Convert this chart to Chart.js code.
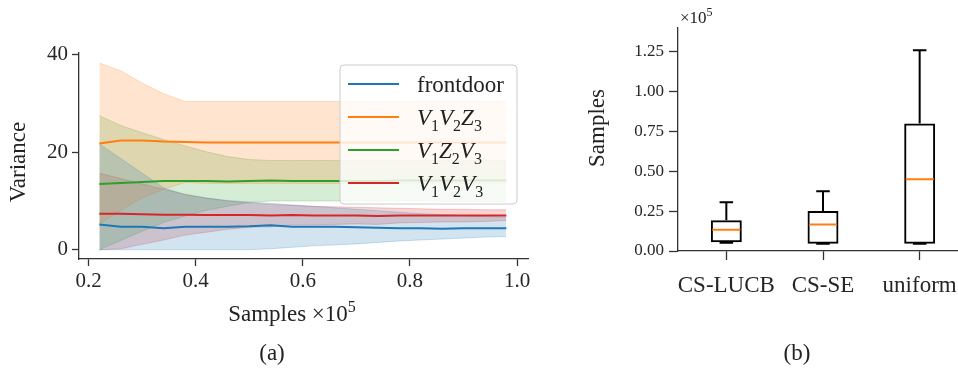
<!DOCTYPE html>
<html>
<head>
<meta charset="utf-8">
<script src="https://cdn.jsdelivr.net/npm/chart.js@4"></script>
<style>
  html, body { margin: 0; padding: 0; background: #fff; overflow: hidden; }
  body { width: 958px; height: 368px; position: relative; }
  #chartA { position: absolute; left: 0; top: 0; }
  #chartB { position: absolute; left: 560px; top: 0; }
</style>
</head>
<body>
<canvas id="chartA" width="560" height="368"></canvas>
<canvas id="chartB" width="440" height="368"></canvas>
<script>
const SERIF = '"Liberation Serif", "DejaVu Serif", serif';
const TEXT = '#262626';
const SPINE = '#333333';

// (a) variance against samples (x10^5)
const sampleSteps = [0.22, 0.26, 0.30, 0.34, 0.38, 0.42, 0.46, 0.50, 0.54, 0.58, 0.62, 0.66, 0.70, 0.74, 0.78, 0.82, 0.86, 0.90, 0.94, 0.98];

const frontdoorMean  = [5.2, 4.7, 4.7, 4.4, 4.7, 4.7, 4.7, 4.8, 5.0, 4.7, 4.7, 4.7, 4.6, 4.5, 4.4, 4.4, 4.3, 4.4, 4.4, 4.4];
const frontdoorUpper = [21.7, 18.7, 15.7, 12.7, 11.3, 10.6, 10.1, 9.8, 9.5, 9.2, 8.9, 8.6, 8.3, 8.0, 7.7, 7.4, 7.2, 7.0, 6.8, 6.7];
const frontdoorLower = [0, 0, 0, 0, 0, 0, 0, 0, 0.2, 0.5, 0.8, 1.0, 1.2, 1.5, 1.8, 2.0, 2.2, 2.4, 2.6, 2.7];

const v1v2z3Mean  = [21.8, 22.4, 22.4, 22.2, 22.1, 22.0, 22.0, 22.0, 22.0, 22.0, 22.0, 22.0, 22.0, 22.0, 22.0, 22.0, 22.0, 22.0, 22.0, 22.0];
const v1v2z3Upper = [38.3, 36.7, 34.2, 32.0, 30.4, 30.4, 30.4, 30.4, 30.4, 30.4, 30.4, 30.4, 30.4, 30.4, 30.4, 30.4, 30.4, 30.4, 30.4, 30.4];
const v1v2z3Lower = [5.3, 8.1, 10.6, 12.4, 13.8, 13.6, 13.6, 13.6, 13.6, 13.6, 13.6, 13.6, 13.6, 13.6, 13.6, 13.6, 13.6, 13.6, 13.6, 13.6];

const v1z2v3Mean  = [13.5, 13.7, 13.9, 14.1, 14.1, 14.1, 14.0, 14.1, 14.2, 14.1, 14.1, 14.1, 14.1, 14.1, 14.2, 14.2, 14.2, 14.2, 14.2, 14.2];
const v1z2v3Upper = [27.5, 25.5, 24.0, 22.6, 21.3, 20.1, 19.1, 18.5, 18.3, 18.3, 18.3, 18.3, 18.3, 18.3, 18.3, 18.3, 18.3, 18.3, 18.3, 18.3];
const v1z2v3Lower = [0, 1.9, 3.8, 5.6, 6.9, 8.1, 8.9, 9.7, 10.0, 10.0, 10.0, 10.0, 10.0, 10.0, 10.0, 10.0, 9.9, 9.9, 9.9, 9.9];

const v1v2v3Mean  = [7.4, 7.4, 7.3, 7.2, 7.2, 7.1, 7.1, 7.1, 7.0, 7.1, 7.0, 7.0, 7.0, 6.9, 7.0, 7.0, 7.0, 7.0, 7.0, 7.0];
const v1v2v3Upper = [15.7, 14.6, 13.5, 12.4, 11.4, 10.6, 10.0, 9.6, 9.3, 9.1, 8.9, 8.8, 8.7, 8.6, 8.5, 8.4, 8.3, 8.3, 8.2, 8.2];
const v1v2v3Lower = [0, 0.2, 1.1, 2.0, 3.0, 3.6, 4.2, 4.6, 4.7, 5.1, 5.1, 5.2, 5.3, 5.2, 5.5, 5.6, 5.7, 5.7, 5.8, 6.0];

const seriesLabels = ['frontdoor', 'V_1V_2Z_3', 'V_1Z_2V_3', 'V_1V_2V_3'];
const seriesColors = ['#1f77b4', '#ff7f0e', '#2ca02c', '#d62728'];
const varianceTicks = [0, 20, 40];
const sampleTicks = [0.2, 0.4, 0.6, 0.8, 1.0];

// (b) samples needed per method (x10^5)
const methods = ['CS-LUCB', 'CS-SE', 'uniform'];
const boxLow    = [0.052, 0.045, 0.045];
const boxQ1     = [0.055, 0.046, 0.046];
const boxMedian = [0.134, 0.166, 0.450];
const boxQ3     = [0.193, 0.251, 0.800];
const boxHigh   = [0.306, 0.375, 1.260];
const sampleCountTicks = [0, 0.25, 0.5, 0.75, 1.0, 1.25];

const rgba = (hex, a) => {
    const n = parseInt(hex.slice(1), 16);
    return `rgba(${(n >> 16) & 255},${(n >> 8) & 255},${n & 255},${a})`;
};

// draws text made of parts, some italic, some sub/superscript
const drawParts = (ctx, parts, x, y, size, align) => {
    const fontFor = p => `${p.italic ? 'italic ' : ''}${(p.sub || p.sup) ? Math.round(size * 0.7) : size}px ${SERIF}`;
    let total = 0;
    parts.forEach(p => { ctx.font = fontFor(p); total += ctx.measureText(p.t).width; });
    let cx = align === 'center' ? x - total / 2 : x;
    ctx.textAlign = 'left';
    ctx.textBaseline = 'alphabetic';
    parts.forEach(p => {
        ctx.font = fontFor(p);
        const dy = p.sub ? size * 0.24 : (p.sup ? -size * 0.4 : 0);
        ctx.fillText(p.t, cx, y + dy);
        cx += ctx.measureText(p.t).width;
    });
};

// 'V_1V_2Z_3' -> italic letters with subscripts
const labelParts = label => {
    if (label.indexOf('_') < 0) return [{ t: label }];
    const parts = [];
    label.replace(/([A-Za-z])_(\d)/g, (m, letter, digit) => {
        parts.push({ t: letter, italic: true });
        parts.push({ t: digit, sub: true });
        return m;
    });
    return parts;
};

const axisStyle = (tickSize, tickLength, padding) => ({
    ticks: { font: { family: SERIF, size: tickSize }, color: TEXT, padding: padding, maxRotation: 0, autoSkip: false },
    grid: { display: true, drawOnChartArea: false, drawTicks: true, tickLength: tickLength, tickWidth: 1.3, tickColor: SPINE, offset: false },
    border: { display: true, color: SPINE, width: 1.3 }
});

// ---------- chart (a) ----------
const seriesMeans = [frontdoorMean, v1v2z3Mean, v1z2v3Mean, v1v2v3Mean];
const seriesUpper = [frontdoorUpper, v1v2z3Upper, v1z2v3Upper, v1v2v3Upper];
const seriesLower = [frontdoorLower, v1v2z3Lower, v1z2v3Lower, v1v2v3Lower];
const toPoints = arr => sampleSteps.map((x, i) => ({ x: x, y: arr[i] }));

// first datasets are drawn last, so the mean lines go first
const lineSets = seriesMeans.map((m, i) => ({
    data: toPoints(m),
    borderColor: seriesColors[i],
    borderWidth: 2,
    pointRadius: 0,
    tension: 0,
    fill: false
}));
const bandSets = [];
seriesUpper.forEach((u, i) => {
    bandSets.push({
        data: toPoints(u),
        borderColor: rgba(seriesColors[i], 0.22),
        borderWidth: 1,
        backgroundColor: rgba(seriesColors[i], 0.2),
        pointRadius: 0,
        tension: 0,
        fill: '+1'
    });
    bandSets.push({
        data: toPoints(seriesLower[i]),
        borderColor: rgba(seriesColors[i], 0.22),
        borderWidth: 1,
        pointRadius: 0,
        tension: 0,
        fill: false
    });
});

const textA = {
    id: 'textA',
    afterDraw(chart) {
        const ctx = chart.ctx;
        const area = chart.chartArea;
        ctx.save();
        ctx.fillStyle = TEXT;

        // legend
        const lx = area.right - 188, ly = area.top + 12, lw = 177, lh = 139;
        ctx.beginPath();
        ctx.roundRect(lx, ly, lw, lh, 4);
        ctx.fillStyle = 'rgba(255,255,255,0.8)';
        ctx.fill();
        ctx.strokeStyle = '#cccccc';
        ctx.lineWidth = 1;
        ctx.stroke();
        seriesLabels.forEach((label, i) => {
            const y = ly + 19 + 33 * i;
            ctx.beginPath();
            ctx.moveTo(lx + 8, y);
            ctx.lineTo(lx + 59, y);
            ctx.strokeStyle = seriesColors[i];
            ctx.lineWidth = 2;
            ctx.stroke();
            ctx.fillStyle = '#222';
            drawParts(ctx, labelParts(label), lx + 77, y + 8, 23, 'left');
        });

        // axis titles and caption
        ctx.fillStyle = '#222';
        drawParts(ctx, [{ t: 'Samples \u00d710' }, { t: '5', sup: true }], 292, 321, 23, 'center');
        drawParts(ctx, [{ t: '(a)' }], 272, 360, 23, 'center');
        ctx.translate(25, 162);
        ctx.rotate(-Math.PI / 2);
        drawParts(ctx, [{ t: 'Variance' }], 0, 0, 23, 'center');
        ctx.restore();
    }
};

const styleXA = axisStyle(21, 7, 3);
const styleYA = axisStyle(21, 7, 4);

new Chart(document.getElementById('chartA'), {
    type: 'line',
    data: { datasets: lineSets.concat(bandSets) },
    options: {
        responsive: false,
        animation: false,
        events: [],
        layout: { padding: { left: 0, top: 53, right: 32, bottom: 0 } },
        plugins: { legend: { display: false }, tooltip: { enabled: false } },
        scales: {
            x: Object.assign({}, styleXA, {
                type: 'linear',
                min: 0.182,
                max: 1.0205,
                afterFit: s => { s.height = 109; },
                afterBuildTicks: s => { s.ticks = sampleTicks.map(v => ({ value: v })); },
                ticks: Object.assign({}, styleXA.ticks, { callback: v => v.toFixed(1) })
            }),
            y: Object.assign({}, styleYA, {
                type: 'linear',
                min: -1.9,
                max: 40.35,
                afterFit: s => { s.width = 79; },
                afterBuildTicks: s => { s.ticks = varianceTicks.map(v => ({ value: v })); },
                ticks: Object.assign({}, styleYA.ticks, { callback: v => String(v) })
            })
        }
    },
    plugins: [textA]
});

// ---------- chart (b) ----------
const BOX_HALF = 0.145;   // median half width, x units
const CAP_HALF = 0.07;    // whisker cap half width

const medianPoints = [];
const whiskerPoints = [];
methods.forEach((m, i) => {
    const pos = i + 1;
    medianPoints.push({ x: pos - BOX_HALF, y: boxMedian[i] }, { x: pos + BOX_HALF, y: boxMedian[i] }, { x: pos, y: null });
    whiskerPoints.push(
        { x: pos, y: boxQ3[i] }, { x: pos, y: boxHigh[i] }, { x: pos, y: null },
        { x: pos - CAP_HALF, y: boxHigh[i] }, { x: pos + CAP_HALF, y: boxHigh[i] }, { x: pos, y: null },
        { x: pos, y: boxQ1[i] }, { x: pos, y: boxLow[i] }, { x: pos, y: null },
        { x: pos - CAP_HALF, y: boxLow[i] }, { x: pos + CAP_HALF, y: boxLow[i] }, { x: pos, y: null }
    );
});

const textB = {
    id: 'textB',
    afterDraw(chart) {
        const ctx = chart.ctx;
        const area = chart.chartArea;
        ctx.save();
        ctx.fillStyle = '#222';
        drawParts(ctx, [{ t: '\u00d710' }, { t: '5', sup: true }], area.left + 2, 23, 17, 'left');
        drawParts(ctx, [{ t: '(b)' }], 237, 360, 23, 'center');
        ctx.translate(44, 128);
        ctx.rotate(-Math.PI / 2);
        drawParts(ctx, [{ t: 'Samples' }], 0, 0, 23, 'center');
        ctx.restore();
    }
};

const styleXB = axisStyle(23, 9, 12);
const styleYB = axisStyle(17, 9, 5);

new Chart(document.getElementById('chartB'), {
    type: 'bar',
    data: {
        datasets: [
            { type: 'line', data: medianPoints, borderColor: '#ff7f0e', borderWidth: 2, pointRadius: 0, spanGaps: false, fill: false },
            { type: 'line', data: whiskerPoints, borderColor: '#000', borderWidth: 2, pointRadius: 0, spanGaps: false, fill: false },
            {
                type: 'bar',
                data: methods.map((m, i) => ({ x: i + 1, y: [boxQ1[i], boxQ3[i]] })),
                backgroundColor: 'rgba(0,0,0,0)',
                borderColor: '#000',
                borderWidth: 2,
                borderSkipped: false,
                barPercentage: 0.32,
                categoryPercentage: 1
            }
        ]
    },
    options: {
        responsive: false,
        animation: false,
        events: [],
        layout: { padding: { left: 0, top: 28, right: 32, bottom: 0 } },
        plugins: { legend: { display: false }, tooltip: { enabled: false } },
        scales: {
            x: Object.assign({}, styleXB, {
                type: 'linear',
                offset: false,
                min: 0.5,
                max: 3.5,
                afterFit: s => { s.height = 117; },
                afterBuildTicks: s => { s.ticks = methods.map((m, i) => ({ value: i + 1 })); },
                ticks: Object.assign({}, styleXB.ticks, { callback: v => methods[Math.round(v) - 1] })
            }),
            y: Object.assign({}, styleYB, {
                type: 'linear',
                min: 0,
                max: 1.40,
                afterFit: s => { s.width = 118; },
                afterBuildTicks: s => { s.ticks = sampleCountTicks.map(v => ({ value: v })); },
                ticks: Object.assign({}, styleYB.ticks, { callback: v => v.toFixed(2) })
            })
        }
    },
    plugins: [textB]
});
</script>
</body>
</html>
